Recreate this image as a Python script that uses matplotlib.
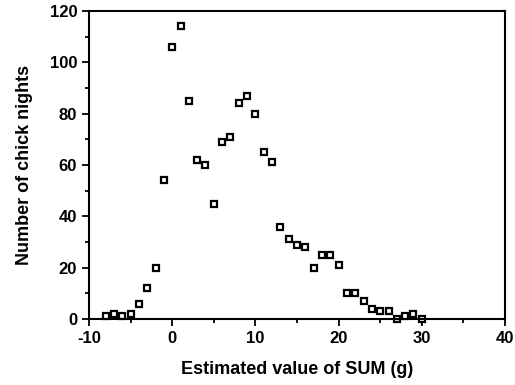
import matplotlib
matplotlib.use('Agg')
from matplotlib import pyplot as plt
from matplotlib.ticker import MultipleLocator

plt.rcParams['font.family'] = ['Liberation Sans', 'DejaVu Sans']
plt.rcParams['font.weight'] = 'bold'
plt.rcParams['axes.unicode_minus'] = False

# Estimated SUM (g) and number of chick nights
sum_values = list(range(-8, 31))
chick_nights = [1, 2, 1, 2, 6, 12, 20, 54, 106, 114, 85, 62, 60, 45, 69, 71,
                84, 87, 80, 65, 61, 36, 31, 29, 28, 20, 25, 25, 21, 10, 10, 7,
                4, 3, 3, 0, 1, 2, 0]

x_ticks = [-10, 0, 10, 20, 30, 40]
y_ticks = [0, 20, 40, 60, 80, 100, 120]

fig = plt.figure(figsize=(5.15, 3.85), dpi=100)
ax = fig.add_axes([89 / 515, 1 - 319 / 385, (505 - 89) / 515, (319 - 11) / 385])

ax.plot(sum_values, chick_nights, linestyle='none', marker='s',
        markersize=4, markerfacecolor='white', markeredgecolor='black',
        markeredgewidth=1.6, clip_on=False)

ax.set_xlim(-10, 40)
ax.set_ylim(0, 120)
ax.set_xticks(x_ticks)
ax.set_yticks(y_ticks)
ax.xaxis.set_minor_locator(MultipleLocator(5))
ax.yaxis.set_minor_locator(MultipleLocator(10))
ax.tick_params(which='both', direction='out', width=1.3, labelsize=12)
ax.tick_params(which='major', length=5)
ax.tick_params(which='minor', length=3)
for spine in ax.spines.values():
    spine.set_linewidth(1.5)

ax.set_xlabel('Estimated value of SUM (g)', fontsize=13, fontweight='bold', labelpad=11)
ax.set_ylabel('Number of chick nights', fontsize=13, fontweight='bold', labelpad=12)

fig.savefig('out.png', dpi=100)
